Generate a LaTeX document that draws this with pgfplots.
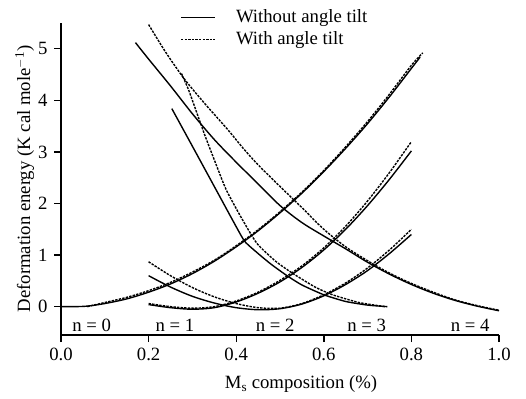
\documentclass[border=0pt]{standalone}
\usepackage{fontspec}
\setmainfont{Liberation Serif}
\usepackage{pgfplots}
\pgfplotsset{compat=1.18}
\begin{document}
\fontsize{18.8}{22}\selectfont
\begin{tikzpicture}
\begin{axis}[
  name=ax,
  scale only axis, width=438bp, height=312bp,
  xmin=0, xmax=1, ymin=-0.55, ymax=5.5,
  axis x line*=bottom, axis y line*=left,
  axis line style={-, line width=1.5pt},
  xtick={0,0.2,0.4,0.6,0.8,1.0},
  xticklabels={0.0,0.2,0.4,0.6,0.8,1.0},
  ytick={0,1,2,3,4,5},
  yticklabels={0,1,2,3,4,5},
  tick align=outside, major tick length=7bp,
  tick style={line width=1.4pt, black},
  ticklabel style={font=\fontsize{18.8}{22}\selectfont},
  xlabel={M\textsubscript{s} composition (\%)},
  ylabel={Deformation energy (K cal mole\textsuperscript{$-$1})},
  label style={font=\fontsize{18.8}{22}\selectfont},
  xlabel style={at={(axis description cs:0.548,-0.157)}, anchor=center},
  ylabel style={at={(axis description cs:-0.083,0.5)}, anchor=center},
  legend style={at={(axis description cs:0.272,0.982)}, anchor=west, draw=none, fill=none,
    font=\fontsize{18.8}{22}\selectfont, row sep=4.5bp, inner sep=0pt,
    nodes={inner sep=1pt}},
  legend cell align=left,
  legend image code/.code={\draw[#1] (0cm,0cm) -- (1.2cm,0cm); \path (1.88cm,0cm);},
  every axis plot/.append style={black, line width=1.4pt},
  dsh/.style={dash pattern=on 2.4pt off 1.2pt},
]
\addlegendimage{black, line width=1.4pt}
\addlegendentry{Without angle tilt}
\addlegendimage{black, line width=1.4pt, dash pattern=on 2.4pt off 1.2pt}
\addlegendentry{With angle tilt}

% n = 0
\addplot[smooth, forget plot] coordinates {(0,0) (0.03,0) (0.06,0.01) (0.1,0.06) (0.15,0.15) (0.2,0.28) (0.25,0.44) (0.3,0.64) (0.35,0.88) (0.4,1.16) (0.45,1.47) (0.5,1.82) (0.55,2.2) (0.6,2.62) (0.65,3.07) (0.7,3.55) (0.75,4.07) (0.8,4.62) (0.82,4.84)};
\addplot[smooth, dsh, forget plot] coordinates {(0.06,0.0) (0.1,0.08) (0.15,0.18) (0.2,0.31) (0.25,0.47) (0.3,0.67) (0.35,0.9) (0.4,1.18) (0.45,1.49) (0.5,1.84) (0.55,2.22) (0.6,2.64) (0.65,3.1) (0.7,3.59) (0.75,4.12) (0.8,4.68) (0.826,4.92)};
% n = 1
\addplot[smooth, forget plot] coordinates {(0.2,0.04) (0.25,-0.02) (0.3,-0.05) (0.35,-0.02) (0.4,0.09) (0.45,0.26) (0.5,0.48) (0.55,0.76) (0.6,1.1) (0.65,1.5) (0.7,1.96) (0.75,2.47) (0.8,3.02)};
\addplot[smooth, dsh, forget plot] coordinates {(0.2,0.06) (0.25,0.0) (0.3,-0.03) (0.35,0.0) (0.4,0.11) (0.45,0.28) (0.5,0.51) (0.55,0.79) (0.6,1.14) (0.65,1.56) (0.7,2.05) (0.75,2.6) (0.8,3.2)};
% n = 2
\addplot[smooth, forget plot] coordinates {(0.2,0.6) (0.25,0.38) (0.3,0.2) (0.35,0.07) (0.4,-0.02) (0.45,-0.06) (0.5,-0.04) (0.55,0.05) (0.6,0.21) (0.65,0.43) (0.7,0.7) (0.75,1.03) (0.8,1.4)};
\addplot[smooth, dsh, forget plot] coordinates {(0.2,0.87) (0.25,0.6) (0.3,0.37) (0.35,0.19) (0.4,0.06) (0.45,-0.02) (0.5,-0.03) (0.55,0.06) (0.6,0.23) (0.65,0.46) (0.7,0.75) (0.75,1.1) (0.8,1.5)};
% n = 3
\addplot[smooth, tension=0.35, forget plot] coordinates {(0.253,3.84) (0.3,3.11) (0.35,2.33) (0.4,1.55) (0.42,1.26) (0.45,1.03) (0.48,0.82) (0.516,0.6) (0.55,0.42) (0.6,0.23) (0.65,0.1) (0.7,0.03) (0.745,0.0)};
\addplot[smooth, tension=0.35, dsh, forget plot] coordinates {(0.275,4.52) (0.291,4.21) (0.31,3.76) (0.329,3.31) (0.353,2.78) (0.377,2.27) (0.41,1.75) (0.447,1.23) (0.49,0.88) (0.53,0.64) (0.58,0.38) (0.62,0.23) (0.68,0.08) (0.74,0.0)};
% n = 4
\addplot[smooth, forget plot] coordinates {(0.17,5.12) (0.2,4.8) (0.25,4.28) (0.3,3.74) (0.35,3.24) (0.4,2.8) (0.45,2.38) (0.5,1.96) (0.55,1.63) (0.6,1.37) (0.65,1.12) (0.7,0.86) (0.75,0.63) (0.8,0.43) (0.85,0.26) (0.9,0.12) (0.95,0.01) (1.0,-0.08)};
\addplot[smooth, dsh, forget plot] coordinates {(0.2,5.47) (0.24,4.92) (0.283,4.4) (0.33,3.92) (0.38,3.44) (0.416,3.07) (0.45,2.75) (0.5,2.33) (0.55,1.92) (0.6,1.5) (0.65,1.16) (0.7,0.89) (0.75,0.65) (0.8,0.45) (0.85,0.28) (0.9,0.13) (0.95,0.02) (1.0,-0.07)};

\node[font=\fontsize{18.8}{22}\selectfont] at (axis cs:0.07,-0.36) {n = 0};
\node[font=\fontsize{18.8}{22}\selectfont] at (axis cs:0.26,-0.36) {n = 1};
\node[font=\fontsize{18.8}{22}\selectfont] at (axis cs:0.489,-0.36) {n = 2};
\node[font=\fontsize{18.8}{22}\selectfont] at (axis cs:0.698,-0.36) {n = 3};
\node[font=\fontsize{18.8}{22}\selectfont] at (axis cs:0.934,-0.36) {n = 4};
\coordinate (LL) at (rel axis cs:0,0);
\end{axis}
\pgfresetboundingbox
\path (LL) ++(-61bp,-64bp) rectangle ++(526bp,399bp);
\end{tikzpicture}
\end{document}
